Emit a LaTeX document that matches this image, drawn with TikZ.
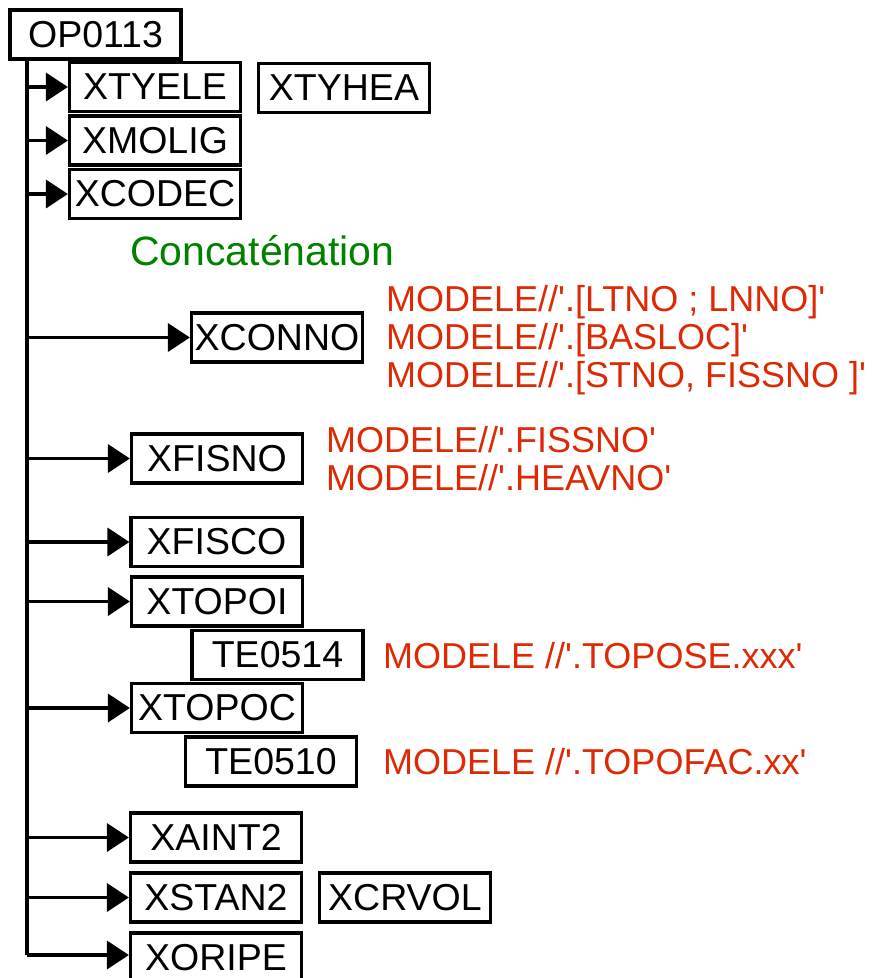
\documentclass[tikz,border=0pt]{standalone}
\usepackage{fontspec}
\setmainfont{Liberation Sans}
\usetikzlibrary{arrows.meta,positioning}

\definecolor{cmtred}{RGB}{221,42,4}
\definecolor{cmtgreen}{RGB}{0,130,0}

\newcommand{\sq}{\textquotesingle}

\tikzset{
    routine/.style={draw,line width=3.2pt,minimum width=171pt,minimum height=49pt,
        inner sep=0pt,font=\fontsize{37.5}{40}\selectfont},
    call/.style={line width=3.6pt,-{Triangle[length=22pt,width=28pt]}},
    trunk/.style={line width=3.2pt},
    note/.style={text=cmtred,font=\fontsize{36}{38}\selectfont,anchor=west,
        align=left,inner sep=0pt}
}

\begin{document}
\begin{tikzpicture}[x=1pt,y=-1pt]

\useasboundingbox (0,0) rectangle (883,978);

% routines
\foreach \v/\x/\y/\t in
{bOP/95.5/34.5/OP0113,
    bXTYELE/155/87/XTYELE,
    bXTYHEA/344/88/XTYHEA,
    bXMOLIG/155/140.5/XMOLIG,
    bXCODEC/155/194/XCODEC,
    bXCONNO/277/337.5/XCONNO,
    bXFISNO/217/458.5/XFISNO,
    bXFISCO/216.5/542/XFISCO,
    bXTOPOI/217/601.5/XTOPOI,
    bTEa/277.5/655/TE0514,
    bXTOPOC/217/708/XTOPOC,
    bTEb/271/761.5/TE0510,
    bXAINT2/216/837.5/XAINT2,
    bXSTAN2/216/897.5/XSTAN2,
    bXCRVOL/405/897.5/XCRVOL,
    bXORIPE/216/957.5/XORIPE}
{
    \node[routine] (\v) at (\x,\y) {\t};
};

% branch points on the trunk
\foreach \v/\y in
{cTyelePt/87,
    cMoligPt/140.5,
    cCodecPt/194,
    cConnoPt/337.5,
    cFisnoPt/458.5,
    cFiscoPt/542,
    cTopoiPt/601.5,
    cTopocPt/708,
    cAintPt/837.5,
    cStanPt/897.5,
    cOripePt/955}
{
    \coordinate (\v) at (27,\y);
};

\draw[trunk] (bOP.south -| cOripePt) -- (cOripePt);

\foreach \u/\v in
{cTyelePt/bXTYELE,
    cMoligPt/bXMOLIG,
    cCodecPt/bXCODEC,
    cConnoPt/bXCONNO,
    cFisnoPt/bXFISNO,
    cFiscoPt/bXFISCO,
    cTopoiPt/bXTOPOI,
    cTopocPt/bXTOPOC,
    cAintPt/bXAINT2,
    cStanPt/bXSTAN2}
{
    \draw[call] (\u) -- (\v.west);
};
\draw[call] (cOripePt) -- (cOripePt -| bXORIPE.west);

% comments
\node[anchor=west,inner sep=0pt,text=cmtgreen,font=\fontsize{41}{43}\selectfont]
    (tConcat) at (130,251) {Concaténation};
\node[note] (tConno) at (386,340)
    {MODELE//\sq.[LTNO ; LNNO]\sq\\MODELE//\sq.[BASLOC]\sq\\MODELE//\sq.[STNO, FISSNO ]\sq};
\node[note] (tFisno) at (326,459) {MODELE//\sq.FISSNO\sq\\MODELE//\sq.HEAVNO\sq};
\node[note] (tTopoi) at (383,656) {MODELE //\sq.TOPOSE.xxx\sq};
\node[note] (tTopoc) at (383,762) {MODELE //\sq.TOPOFAC.xx\sq};

\end{tikzpicture}
\end{document}
